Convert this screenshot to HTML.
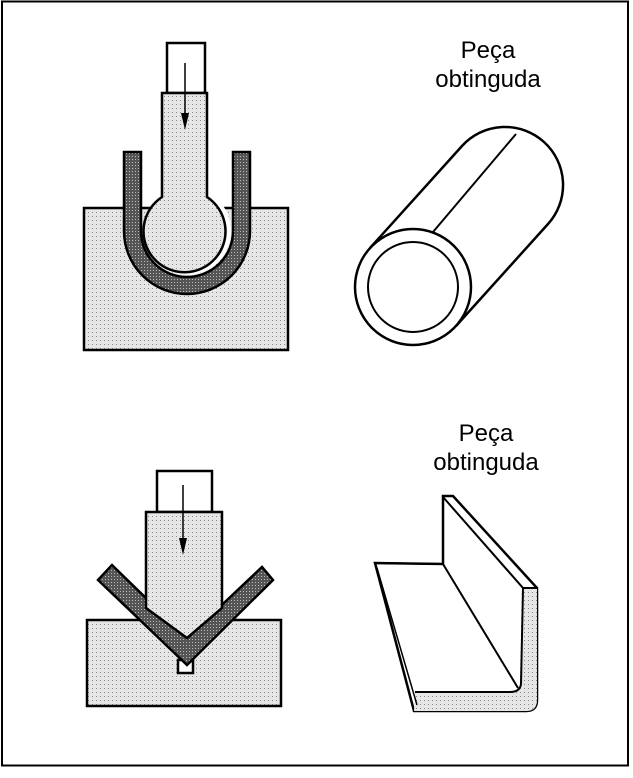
<!DOCTYPE html>
<html><head><style>html,body{margin:0;padding:0;background:#fff}</style></head><body>
<svg width="633" height="778" xmlns="http://www.w3.org/2000/svg" style="display:block">
<defs>
<pattern id="lg" width="4" height="4" patternUnits="userSpaceOnUse"><rect width="4" height="4" fill="#e6e6e6"/><rect width="1" height="1" fill="#888"/></pattern>
<pattern id="dg" width="3" height="3" patternUnits="userSpaceOnUse"><rect width="3" height="3" fill="#555"/><rect width="1" height="1" fill="#bbb"/></pattern>
</defs>
<rect x="2" y="1.5" width="626" height="764" fill="none" stroke="#000" stroke-width="2"/>
<g font-family="Liberation Sans, sans-serif" font-size="24" text-anchor="middle" fill="#000">
<text x="488" y="58">Peça</text><text x="488" y="87">obtinguda</text>
<text x="486" y="441">Peça</text><text x="486" y="470">obtinguda</text>
</g>
<g stroke="#000" stroke-width="2.5">
<!-- top-left -->
<rect x="84" y="208" width="204" height="142" fill="url(#lg)"/>
<path d="M124 152 L141 152 L141 231 A46 46 0 0 0 233 231 L233 152 L250 152 L250 231 A63 63 0 0 1 124 231 Z" fill="url(#dg)"/>
<circle cx="187" cy="231" r="44" fill="#fff" stroke="none"/>
<rect x="167" y="43" width="38" height="50" fill="#fff"/>
<path d="M162 93 L207 93 L207 197 A41 41 0 1 1 162 197 Z" fill="url(#lg)"/>
<line x1="185" y1="63" x2="185" y2="122" stroke-width="1.5"/>
<path d="M181 113 L189 113 L185 130 Z" fill="#000" stroke="none"/>
<!-- cylinder -->
<path d="M370 248 L462 146 A58 58 0 0 1 548 224 L456 326" fill="#fff"/>
<circle cx="413" cy="287" r="58" fill="#fff"/>
<circle cx="413" cy="287" r="45" fill="#fff" stroke-width="2"/>
<line x1="433" y1="232" x2="516" y2="134" stroke-width="2"/>
<!-- bottom-left -->
<rect x="87" y="620" width="194" height="86" fill="url(#lg)"/>
<rect x="178" y="660" width="15" height="13" fill="#fff"/>
<path d="M98 580 L112 565 L187 638 L262 567 L273 580 L187 665 Z" fill="url(#dg)"/>
<rect x="157" y="471" width="55" height="41" fill="#fff"/>
<path d="M146 512 L222 512 L222 608 L187 638 L146 608 Z" fill="url(#lg)"/>
<line x1="183" y1="485" x2="183" y2="545" stroke-width="1.5"/>
<path d="M179 538 L187 538 L183 555 Z" fill="#000" stroke="none"/>
<!-- angle -->
<path d="M443 496 L453 496 L537 588 L537 700 Q537 711 526 711 L414 711 L375 563 L443 564 Z" fill="#fff"/>
<path d="M523 588 L537 588 L537 700 Q537 711 526 711 L414 711 L415 692 L512 692 Q520 692 520 684 Z" fill="url(#lg)" stroke="none"/>
<line x1="443" y1="496" x2="443" y2="564" stroke-width="2"/>
<line x1="443" y1="564" x2="375" y2="563" stroke-width="2"/>
<line x1="443" y1="564" x2="518" y2="688" stroke-width="2"/>
<line x1="443" y1="497" x2="523" y2="588" stroke-width="2"/>
<line x1="523" y1="588" x2="537" y2="588" stroke-width="2"/>
<path d="M523 588 L521 684 Q520 692 510 692 L415 692" fill="none" stroke-width="2"/>
<path d="M377 568 L417 705" fill="none" stroke-width="1.5"/>
</g>
</svg>
</body></html>
